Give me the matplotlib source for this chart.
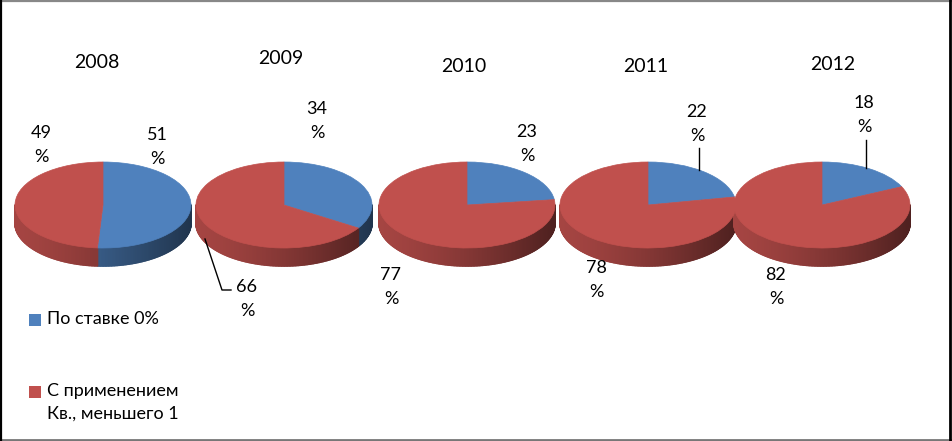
import numpy as np
import matplotlib
matplotlib.use('Agg')
import matplotlib.pyplot as plt
from matplotlib.patches import Wedge, Rectangle
from matplotlib.collections import PolyCollection
from matplotlib.colors import to_rgb
from matplotlib.transforms import Affine2D

plt.rcParams['font.family'] = ['Lato', 'Open Sans', 'DejaVu Sans']

# data
years = ['2008', '2009', '2010', '2011', '2012']
zero_rate = [51, 34, 23, 22, 18]       # По ставке 0%
reduced_coef = [49, 66, 77, 78, 82]    # С применением Кв., меньшего 1
series_names = ['По ставке 0%', 'С применением\nКв., меньшего 1']
colors = ['#4F81BD', '#C0504D']

W, H = 953, 441
fig = plt.figure(figsize=(W / 100, H / 100), dpi=100)
ax = fig.add_axes([0, 0, 1, 1])
ax.set_xlim(0, W)
ax.set_ylim(H, 0)
ax.axis('off')

# layout (pixel-ish coordinates, y down)
pie_x = [103, 284, 467, 648, 822]
pie_y = 205
rx, ry, depth = 88, 43, 18
title_pos = [(97, 62), (281, 58), (464, 67), (646, 67), (833, 64)]
lab0_pos = [(157, 147), (317, 121), (527, 144), (697, 124), (864, 115)]
lab1_pos = [(41, 145), (247, 299), (391, 287), (596, 280), (776, 287)]


def front_parts(a1, a2):
    parts = []
    for k in (-1, 0, 1):
        lo, hi = max(a1, -180 + 360 * k), min(a2, 360 * k)
        if hi > lo:
            parts.append((lo, hi))
    return parts


for i, yr in enumerate(years):
    cx = pie_x[i]
    vals = [zero_rate[i], reduced_coef[i]]
    tot = float(sum(vals))
    start = 90.0
    ranges = []
    for v in vals:
        end = start - 360.0 * v / tot
        ranges.append((end, start))
        start = end

    # side of the 3D pie
    polys, fcs = [], []
    for (a1, a2), c in zip(ranges, colors):
        base = np.array(to_rgb(c))
        for lo, hi in front_parts(a1, a2):
            th = np.linspace(lo, hi, max(int(hi - lo), 2) + 1)
            for t1, t2 in zip(th[:-1], th[1:]):
                r1, r2 = np.radians(t1), np.radians(t2)
                x1, x2 = cx + rx * np.cos(r1), cx + rx * np.cos(r2)
                y1, y2 = pie_y - ry * np.sin(r1), pie_y - ry * np.sin(r2)
                polys.append([(x1, y1), (x2, y2), (x2, y2 + depth), (x1, y1 + depth)])
                tt = (np.cos((r1 + r2) / 2) + 1) / 2
                f = 0.86 - 0.45 * tt ** 1.4
                fcs.append(tuple(base * f))
    ax.add_collection(PolyCollection(polys, facecolors=fcs, edgecolors=fcs,
                                     linewidths=1.2, zorder=1))

    # top of the pie
    tr = Affine2D().scale(rx, -ry).translate(cx, pie_y) + ax.transData
    for (a1, a2), c in zip(ranges, colors):
        ax.add_patch(Wedge((0, 0), 1, a1, a2, facecolor=c, edgecolor=c,
                           linewidth=0.5, transform=tr, zorder=2))

    ax.text(*title_pos[i], yr, fontsize=14, ha='center', va='center')
    ax.text(*lab0_pos[i], f'{zero_rate[i]}\n%', fontsize=13, ha='center',
            va='center', linespacing=1.55)
    ax.text(*lab1_pos[i], f'{reduced_coef[i]}\n%', fontsize=13, ha='center',
            va='center', linespacing=1.55)

# leader lines
ax.plot([205, 222, 231], [239, 290, 290], color='black', lw=1)
ax.plot([699, 699], [148, 170], color='black', lw=1)
ax.plot([866, 866], [140, 168], color='black', lw=1)

# legend
leg_y = [320, 392]
for c, name, yy in zip(colors, series_names, leg_y):
    ax.add_patch(Rectangle((29, yy - 6), 12, 12, facecolor=c, edgecolor='none'))
    ax.text(47, yy - 9, name, fontsize=13, ha='left', va='top', linespacing=1.5)

# chart border
ax.plot([0, W], [1, 1], color='#888888', lw=1.6)
ax.plot([0, W], [439.5, 439.5], color='#777777', lw=2)
ax.plot([1.5, 1.5], [0, H], color='black', lw=1.6)
ax.plot([950.5, 950.5], [0, H], color='black', lw=2)

fig.savefig('out.png', dpi=100)
